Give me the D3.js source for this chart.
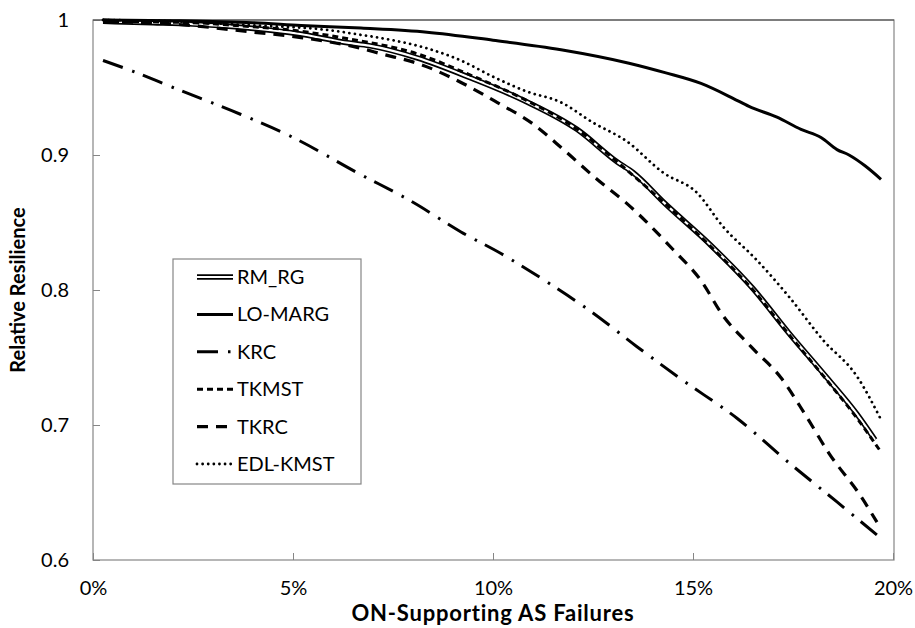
<!DOCTYPE html>
<html>
<head>
<meta charset="utf-8">
<script src="https://cdn.jsdelivr.net/npm/d3@7"></script>
<style>
  body { margin: 0; background: #fff; }
  text { font-family: Lato, "Open Sans", sans-serif; fill: #000; }
</style>
</head>
<body>
<svg id="chart" width="915" height="628"></svg>
<script>
// values (x in % of failures, y relative resilience)
var rmrgX = [0.25, 1.5, 2.5, 3.55, 5.1, 6.4, 6.9, 8.1, 9.45, 10.8, 12.1, 13.1, 13.5, 14.3, 15.45, 16.5, 17.4, 18.35, 19.1, 19.55];
var rmrgY = [0.999, 0.998, 0.997, 0.995, 0.990, 0.983, 0.981, 0.972, 0.957, 0.940, 0.919, 0.895, 0.887, 0.864, 0.833, 0.801, 0.768, 0.735, 0.708, 0.689];

var lomargX = [0.25, 2, 4, 5.2, 6.7, 8.35, 10, 11.7, 13.4, 14.3, 15.2, 16, 16.4, 17.1, 17.7, 18.2, 18.6, 18.9, 19.3, 19.7];
var lomargY = [1.0, 0.9995, 0.998, 0.996, 0.994, 0.991, 0.985, 0.978, 0.968, 0.961, 0.953, 0.942, 0.936, 0.928, 0.919, 0.913, 0.904, 0.900, 0.892, 0.882];

var krcX = [0.25, 1, 2, 3.7, 5, 6.6, 8, 9.2, 10.2, 11.4, 12.5, 13.6, 14.75, 16.1, 17.4, 18.6, 19.7];
var krcY = [0.970, 0.962, 0.950, 0.930, 0.913, 0.887, 0.865, 0.843, 0.827, 0.805, 0.783, 0.758, 0.733, 0.705, 0.672, 0.643, 0.616];

var tkmstX = [0.25, 2.5, 3.55, 5.1, 6.4, 8.1, 9.45, 10.8, 12.1, 13.1, 14.3, 15.45, 16.5, 17.4, 18.35, 19.1, 19.7];
var tkmstY = [0.999, 0.998, 0.996, 0.992, 0.986, 0.975, 0.959, 0.941, 0.919, 0.895, 0.864, 0.832, 0.800, 0.767, 0.733, 0.705, 0.680];

var tkrcX = [0.25, 2, 4, 5.2, 6.7, 7.2, 8.2, 9.25, 10.1, 11, 11.8, 12.6, 13.35, 14.5, 15.2, 15.75, 16.45, 17.2, 17.8, 18.4, 19.2, 19.6];
var tkrcY = [0.999, 0.997, 0.991, 0.987, 0.979, 0.975, 0.967, 0.953, 0.939, 0.923, 0.903, 0.882, 0.864, 0.830, 0.807, 0.781, 0.758, 0.735, 0.708, 0.679, 0.647, 0.628];

var edlX = [0.25, 2, 4, 5.75, 6.7, 7.5, 8.35, 9.2, 10, 10.85, 11.7, 12.5, 13.35, 14.25, 15.1, 15.75, 16.6, 17.4, 18.25, 19.1, 19.7];
var edlY = [1.0, 0.999, 0.996, 0.993, 0.989, 0.985, 0.979, 0.970, 0.958, 0.947, 0.939, 0.924, 0.910, 0.887, 0.872, 0.847, 0.822, 0.795, 0.763, 0.736, 0.704];

var seriesNames = ["RM_RG", "LO-MARG", "KRC", "TKMST", "TKRC", "EDL-KMST"];
var xTicks = [0, 5, 10, 15, 20];
var yTicks = [0.6, 0.7, 0.8, 0.9, 1];

(function() {
  var svg = d3.select("#chart");
  var mLeft = 93, mRight = 893, mTop = 20, mBottom = 560;

  var xScale = d3.scaleLinear().domain([0, 20]).range([mLeft, mRight]);
  var yScale = d3.scaleLinear().domain([0.6, 1]).range([mBottom, mTop]);

  // line styles
  var styles = {
    "RM_RG":    {width: 5.5, dash: null},
    "LO-MARG":  {width: 3, dash: null},
    "KRC":      {width: 3, dash: "21,10,2.5,9"},
    "TKMST":    {width: 3, dash: "6,4"},
    "TKRC":     {width: 3.2, dash: "11,8"},
    "EDL-KMST": {width: 2.8, dash: "0.01,5.6", cap: "round"}
  };

  var series = [
    {name: "RM_RG", x: rmrgX, y: rmrgY},
    {name: "LO-MARG", x: lomargX, y: lomargY},
    {name: "KRC", x: krcX, y: krcY},
    {name: "TKMST", x: tkmstX, y: tkmstY},
    {name: "TKRC", x: tkrcX, y: tkrcY},
    {name: "EDL-KMST", x: edlX, y: edlY}
  ];

  // axes (ticks pointing inward)
  var yAxis = d3.axisLeft(yScale).tickValues(yTicks).tickSize(-7).tickPadding(24)
    .tickFormat(function(d) { return d === 1 ? "1" : d3.format(".1f")(d); });
  var xAxis = d3.axisBottom(xScale).tickValues(xTicks).tickSize(-7).tickPadding(14)
    .tickFormat(function(d) { return d + "%"; });

  var gy = svg.append("g").attr("transform", "translate(" + mLeft + ",0)").call(yAxis);
  var gx = svg.append("g").attr("transform", "translate(0," + mBottom + ")").call(xAxis);
  [gx, gy].forEach(function(g) {
    g.select(".domain").remove();
    g.selectAll(".tick line").attr("stroke", "#868686");
    g.selectAll(".tick text").style("font-size", "20px").attr("fill", "#000");
  });
  gx.selectAll(".tick text").attr("dy", "1.05em");

  // plot frame
  svg.append("rect")
    .attr("x", mLeft).attr("y", mTop)
    .attr("width", mRight - mLeft + 1).attr("height", mBottom - mTop)
    .attr("fill", "none").attr("stroke", "#868686").attr("stroke-width", 1.2);
  svg.append("line")
    .attr("x1", mLeft).attr("x2", mRight + 1).attr("y1", mTop).attr("y2", mTop)
    .attr("stroke", "#444").attr("stroke-width", 1.2);

  var line = d3.line()
    .x(function(d) { return xScale(d[0]); })
    .y(function(d) { return yScale(d[1]); })
    .curve(d3.curveMonotoneX);

  function drawPath(g, pts, name, generator) {
    var s = styles[name];
    var p = g.append("path")
      .attr("d", generator(pts))
      .attr("fill", "none")
      .attr("stroke", "#000")
      .attr("stroke-width", s.width)
      .attr("stroke-linecap", s.cap || "butt")
      .attr("stroke-linejoin", "round");
    if (s.dash) p.attr("stroke-dasharray", s.dash);
    if (name === "RM_RG") {
      g.append("path")
        .attr("d", generator(pts))
        .attr("fill", "none")
        .attr("stroke", "#fff")
        .attr("stroke-width", 2.2);
    }
  }

  var plot = svg.append("g");
  series.forEach(function(s) {
    var pts = s.x.map(function(v, i) { return [v, s.y[i]]; });
    drawPath(plot, pts, s.name, line);
  });

  // legend
  var lg = svg.append("g");
  lg.append("rect")
    .attr("x", 173).attr("y", 259).attr("width", 188).attr("height", 225)
    .attr("fill", "#fff").attr("stroke", "#868686").attr("stroke-width", 1.2);
  var straight = d3.line();
  seriesNames.forEach(function(name, i) {
    var yy = 277 + i * 37.4;
    drawPath(lg, [[197, yy], [233, yy]], name, straight);
    lg.append("text")
      .attr("x", 237).attr("y", yy).attr("dy", "0.35em")
      .style("font-size", "20px")
      .text(name);
  });

  // axis titles
  svg.append("text")
    .attr("x", 493).attr("y", 621)
    .attr("text-anchor", "middle")
    .style("font-size", "22px").style("font-weight", "bold")
    .style("letter-spacing", "0.8px")
    .text("ON-Supporting AS Failures");
  svg.append("text")
    .attr("transform", "translate(25,290) rotate(-90)")
    .attr("text-anchor", "middle")
    .style("font-size", "20px").style("font-weight", "bold")
    .text("Relative Resilience");
})();
</script>
</body>
</html>
